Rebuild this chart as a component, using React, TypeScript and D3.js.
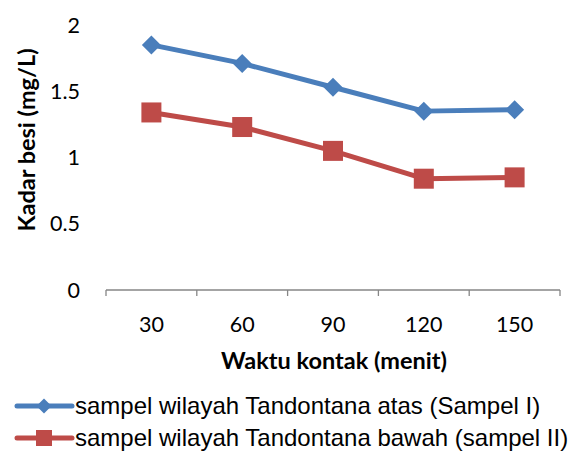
import * as d3 from 'd3';

const categories = ['30', '60', '90', '120', '150'];
const sampelAtas = [1.85, 1.71, 1.53, 1.35, 1.36];
const sampelBawah = [1.34, 1.23, 1.05, 0.84, 0.85];
const yTicks = [0, 0.5, 1, 1.5, 2];
const seriesNames = [
  'sampel wilayah Tandontana atas (Sampel I)',
  'sampel wilayah Tandontana bawah (sampel II)',
];

const width = 573;
const height = 452;
const blue = '#4a7ebb';
const red = '#be4b48';
const tickFont = 'Lato, "Open Sans", sans-serif';

export default function App() {
  const x = d3.scaleBand().domain(categories).range([106, 560]);
  const y = d3.scaleLinear().domain([0, 2]).range([290, 25]);
  const cx = (c: string) => (x(c) as number) + x.bandwidth() / 2;

  const line = d3.line<number>()
    .x((_, i) => cx(categories[i]))
    .y((d) => y(d));

  const diamond = (px: number, py: number, r: number) =>
    `M${px},${py - r}L${px + r},${py}L${px},${py + r}L${px - r},${py}Z`;

  const edges = [...categories.map((c) => x(c) as number), 560];

  return (
    <svg width={width} height={height} style={{ position: 'absolute', left: 0, top: 0 }}>
      <rect width={width} height={height} fill="#fff" />
      {/* x axis */}
      <line x1={106} x2={560} y1={y(0)} y2={y(0)} stroke="#868686" strokeWidth={1.3} />
      {edges.map((e, i) => (
        <line key={i} x1={e} x2={e} y1={y(0)} y2={y(0) + 6} stroke="#868686" strokeWidth={1.3} />
      ))}
      {categories.map((c) => (
        <text key={c} x={cx(c)} y={332} textAnchor="middle" fontFamily={tickFont} fontSize={21.5} fill="#000">{c}</text>
      ))}
      {yTicks.map((t) => (
        <text key={t} x={80} y={y(t) + 7.5} textAnchor="end" fontFamily={tickFont} fontSize={21.5} fill="#000">{t}</text>
      ))}
      <text x={334} y={369} textAnchor="middle" fontFamily={tickFont} fontWeight="bold" fontSize={23.5}>Waktu kontak (menit)</text>
      <text transform="translate(35,140) rotate(-90)" textAnchor="middle" fontFamily={tickFont} fontWeight="bold" fontSize={23.5}>Kadar besi (mg/L)</text>

      {/* series */}
      <path d={line(sampelAtas) ?? ''} fill="none" stroke={blue} strokeWidth={5} strokeLinejoin="round" />
      {sampelAtas.map((v, i) => (
        <path key={i} d={diamond(cx(categories[i]), y(v), 9.5)} fill={blue} />
      ))}
      <path d={line(sampelBawah) ?? ''} fill="none" stroke={red} strokeWidth={5} strokeLinejoin="round" />
      {sampelBawah.map((v, i) => (
        <rect key={i} x={cx(categories[i]) - 10} y={y(v) - 10} width={20} height={20} fill={red} />
      ))}

      {/* legend */}
      {seriesNames.map((n, i) => {
        const ly = 406 + i * 32;
        return (
          <g key={n}>
            <line x1={17} x2={72} y1={ly} y2={ly} stroke={i === 0 ? blue : red} strokeWidth={5} strokeLinecap="round" />
            {i === 0
              ? <path d={diamond(44, ly, 7.5)} fill={blue} />
              : <rect x={36} y={ly - 8} width={16} height={16} fill={red} />}
            <text x={75} y={ly + 8} fontFamily='"Liberation Sans", Arial, sans-serif' fontSize={24}>{n}</text>
          </g>
        );
      })}
    </svg>
  );
}
